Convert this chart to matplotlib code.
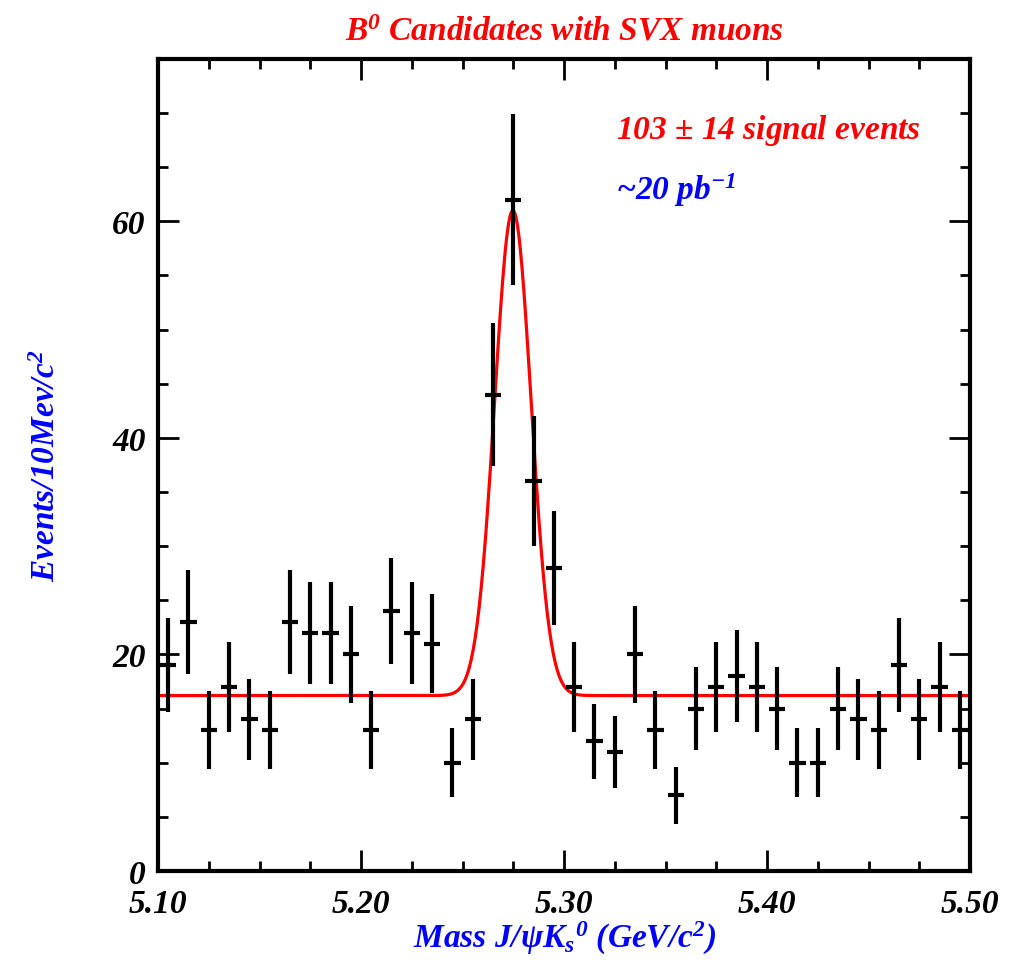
import numpy as np
import matplotlib
matplotlib.use("Agg")
import matplotlib.pyplot as plt
from matplotlib.ticker import MultipleLocator

plt.rcParams["font.family"] = ["Liberation Serif", "DejaVu Serif"]
plt.rcParams["font.weight"] = "bold"
plt.rcParams["font.style"] = "italic"
plt.rcParams["mathtext.fontset"] = "custom"
plt.rcParams["mathtext.rm"] = "Liberation Serif:bold:italic"
plt.rcParams["mathtext.it"] = "Liberation Serif:bold:italic"
plt.rcParams["mathtext.bf"] = "Liberation Serif:bold:italic"

# 10 MeV bins, 5.10 - 5.50
mass = np.arange(5.105, 5.50, 0.01)
counts = [19, 23, 13, 17, 14, 13, 23, 22, 22, 20,
          13, 24, 22, 21, 10, 14, 44, 62, 36, 28,
          17, 12, 11, 20, 13, 7, 15, 17, 18, 17,
          15, 10, 10, 15, 14, 13, 19, 14, 17, 13]

# fit: flat background + gaussian
bkg = 16.2
amp = 44.8
mean = 5.2748
sigma = 0.009

counts = np.array(counts)
errs = np.sqrt(counts)

fig = plt.figure(figsize=(10.15, 9.62), dpi=100)
ax = fig.add_axes([0.1557, 0.0936, 0.8000, 0.8441])

xf = np.linspace(5.10, 5.50, 800)
yf = bkg + amp * np.exp(-0.5 * ((xf - mean) / sigma) ** 2)
ax.plot(xf, yf, color="red", lw=2.3, zorder=2)

ax.errorbar(mass, counts, yerr=errs, xerr=0.004, fmt="none",
            ecolor="black", elinewidth=3, capsize=0, zorder=3)

ax.set_xlim(5.10, 5.50)
ax.set_ylim(0, 75)
ax.xaxis.set_major_locator(MultipleLocator(0.1))
ax.xaxis.set_minor_locator(MultipleLocator(0.025))
ax.yaxis.set_major_locator(MultipleLocator(20))
ax.yaxis.set_minor_locator(MultipleLocator(5))
ax.set_xticks([5.1, 5.2, 5.3, 5.4, 5.5], ["5.10", "5.20", "5.30", "5.40", "5.50"])

ax.tick_params(which="both", direction="in", top=True, right=True, width=2, labelsize=24)
ax.tick_params(which="major", length=15)
ax.tick_params(which="minor", length=7.5)
ax.tick_params(axis="x", pad=12)
ax.tick_params(axis="y", pad=9)
for s in ax.spines.values():
    s.set_linewidth(3)

ax.set_title(r"B$^0$ Candidates with SVX muons", color="red", fontsize=24,
             fontweight="bold", pad=14)
ax.set_xlabel(r"Mass J/$\psi$K$_s$$^0$ (GeV/c$^2$)", color="blue", fontsize=24,
              fontweight="bold", labelpad=0)
ax.set_ylabel(r"Events/10Mev/c$^2$", color="blue", fontsize=24,
              fontweight="bold", labelpad=36)

ax.text(5.3257, 68.5, r"103 $\pm$ 14 signal events", color="red", fontsize=24, va="center")
ax.text(5.3257, 63.0, r"~20 pb$^{-1}$", color="blue", fontsize=24, va="center")

fig.savefig("out.png", dpi=100)
